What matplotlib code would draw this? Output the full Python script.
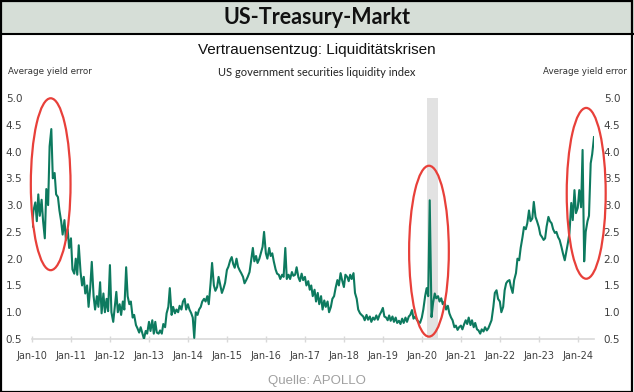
import matplotlib
matplotlib.use("Agg")
import matplotlib.pyplot as plt
import pandas as pd
from matplotlib.patches import Ellipse, Rectangle
from matplotlib.lines import Line2D

# Liquidity index, semi-monthly readings (1st and 15th of each month)
y2010 = [2.6, 2.9, 3.05, 2.7, 3.2, 2.8, 3.1, 2.7, 2.38, 3.3, 3.0, 4.1,
         4.42, 3.5, 3.6, 3.2, 3.15, 2.9, 2.7, 2.45, 2.72, 2.35, 2.55, 2.2]
y2011 = [2.38, 1.8, 1.72, 2.0, 1.7, 2.25, 1.75, 1.5, 1.66, 1.35, 1.5, 1.1,
         1.47, 1.94, 1.3, 1.05, 1.3, 1.1, 1.56, 0.98, 1.35, 1.0, 1.25, 1.02]
y2012 = [1.88, 1.0, 0.82, 1.1, 1.38, 1.0, 1.15, 0.95, 1.2, 1.05, 1.84, 1.3,
         1.15, 1.2, 0.9, 0.95, 0.76, 0.7, 0.62, 0.72, 0.6, 0.5, 0.65, 0.6]
y2013 = [0.82, 0.65, 0.85, 0.6, 0.82, 0.62, 0.6, 0.66, 0.6, 0.78, 0.72, 0.98,
         1.1, 1.45, 0.95, 1.1, 0.98, 1.05, 1.0, 1.12, 1.05, 1.2, 1.25, 1.05]
y2014 = [1.15, 1.05, 0.98, 0.9, 0.52, 1.0, 0.95, 1.05, 1.1, 1.2, 1.25, 1.2,
         1.3, 1.15, 1.54, 1.92, 1.5, 1.4, 1.47, 1.66, 1.5, 1.36, 1.45, 1.55]
y2015 = [1.79, 1.85, 1.97, 2.03, 1.9, 1.83, 2.0, 1.85, 1.78, 1.73, 1.66, 1.54,
         1.6, 1.66, 1.75, 1.95, 2.2, 1.95, 2.05, 1.92, 2.0, 2.1, 2.22, 2.5]
y2016 = [2.1, 2.0, 2.2, 2.05, 2.1, 1.95, 1.8, 1.72, 1.7, 1.62, 1.7, 1.66,
         2.2, 1.62, 1.7, 1.62, 1.75, 1.68, 1.7, 1.84, 1.65, 1.58, 1.72, 1.6]
y2017 = [1.66, 1.5, 1.58, 1.42, 1.5, 1.3, 1.42, 1.2, 1.36, 1.15, 1.3, 1.05,
         1.22, 1.1, 1.2, 1.0, 1.1, 1.25, 1.3, 1.45, 1.6, 1.5, 1.73, 1.6]
y2018 = [1.47, 1.7, 1.66, 1.58, 1.7, 1.62, 1.73, 1.36, 1.25, 1.05, 0.98, 0.95,
         0.92, 0.85, 0.95, 0.86, 0.92, 0.82, 0.9, 0.86, 0.94, 0.86, 0.95, 1.0]
y2019 = [1.08, 0.92, 0.9, 0.85, 0.94, 0.84, 0.92, 0.82, 0.9, 0.8, 0.84, 0.78,
         0.88, 0.8, 0.9, 0.82, 0.92, 0.95, 1.04, 0.88, 0.92, 0.86, 0.82, 0.8]
y2020 = [0.9, 1.05, 1.3, 1.45, 1.3, 3.09, 0.91, 1.17, 1.35, 1.26, 1.3, 1.2,
         1.26, 1.15, 1.2, 1.05, 1.12, 0.98, 0.9, 0.85, 0.72, 0.75, 0.67, 0.72]
y2021 = [0.75, 0.68, 0.78, 0.85, 0.78, 0.9, 0.76, 0.85, 0.72, 0.8, 0.68, 0.66,
         0.6, 0.68, 0.64, 0.72, 0.66, 0.7, 0.78, 0.85, 1.1, 1.36, 1.41, 1.25]
y2022 = [1.2, 1.0, 1.1, 1.41, 1.54, 1.58, 1.6, 1.47, 1.36, 1.6, 1.73, 2.0,
         1.97, 2.2, 2.4, 2.59, 2.55, 2.66, 2.9, 2.7, 2.75, 3.06, 2.78, 2.7]
y2023 = [2.59, 2.45, 2.4, 2.35, 2.38, 2.6, 2.78, 2.7, 2.66, 2.55, 2.48, 2.5,
         2.4, 2.35, 2.22, 2.1, 1.97, 2.12, 2.3, 2.48, 3.04, 2.72, 3.28, 2.85]
y2024 = [2.95, 3.28, 2.96, 4.03, 1.95, 2.5, 2.7, 2.8, 3.78, 3.95, 4.27]

values = (y2010 + y2011 + y2012 + y2013 + y2014 + y2015 + y2016 + y2017
          + y2018 + y2019 + y2020 + y2021 + y2022 + y2023 + y2024)
dates = pd.date_range("2010-01-01", periods=len(values), freq="SMS")

tick_years = list(range(2010, 2025))
tick_labels = ["Jan-10", "Jan-11", "Jan-12", "Jan-13", "Jan-14", "Jan-15", "Jan-16",
               "Jan-17", "Jan-18", "Jan-19", "Jan-20", "Jan-21", "Jan-22", "Jan-23", "Jan-24"]
y_ticks = [0.5, 1.0, 1.5, 2.0, 2.5, 3.0, 3.5, 4.0, 4.5, 5.0]

# crisis periods marked with red ellipses: (centre date, centre value, width days, height)
circles = [("2010-06-25", 3.39, 372, 3.21),
           ("2020-03-08", 2.14, 372, 3.19),
           ("2024-03-20", 3.22, 365, 3.19)]
covid_start, covid_end = "2020-02-15", "2020-05-28"

green = "#0d7a5f"
narrow = ["Liberation Sans Narrow", "DejaVu Sans"]

fig = plt.figure(figsize=(6.34, 3.92), dpi=100)
W, H = 634, 392

# header banner
fig.patches.append(Rectangle((0, 1 - 34 / H), 1, 34 / H, transform=fig.transFigure,
                             facecolor="#d6ded7", edgecolor="none", zorder=0))
fig.add_artist(Line2D([0, 1], [1 - 34 / H, 1 - 34 / H], transform=fig.transFigure,
                      color="black", lw=1.5))
fig.patches.append(Rectangle((0.5 / W, 0.5 / H), 1 - 2.5 / W, 1 - 1.5 / H,
                             transform=fig.transFigure, facecolor="none",
                             edgecolor="black", lw=1.6, zorder=5))

fig.text(0.5, 1 - 18 / H, "US-Treasury-Markt", ha="center", va="center",
         fontsize=15.5, fontweight="bold", family=["Lato", "DejaVu Sans"], color="#111111")
fig.text(0.5, 1 - 50 / H, "Vertrauensentzug: Liquiditätskrisen", ha="center", va="center",
         fontsize=11, family=["Liberation Sans", "DejaVu Sans"], color="#111111")
fig.text(0.5, 1 - 72 / H, "US government securities liquidity index", ha="center",
         va="center", fontsize=8, family=["Lato", "DejaVu Sans"], color="#222222")
fig.text(8 / W, 1 - 72 / H, "Average yield error", ha="left", va="center",
         fontsize=6.3, family=narrow, color="#333333")
fig.text(627 / W, 1 - 72 / H, "Average yield error", ha="right", va="center",
         fontsize=6.3, family=narrow, color="#333333")
fig.text(0.5, 1 - 381 / H, "Quelle: APOLLO", ha="center", va="center",
         fontsize=9.5, family=["Liberation Sans", "DejaVu Sans"], color="#a0a0a0")

ax = fig.add_axes([32 / W, 1 - 339 / H, (594 - 32) / W, (339 - 98) / H])
ax.axvspan(pd.Timestamp(covid_start), pd.Timestamp(covid_end), color="#e2e2e2", lw=0, zorder=1)
ax.plot(dates, values, color=green, lw=1.5, zorder=3)

for c_date, c_val, c_w, c_h in circles:
    e = Ellipse((matplotlib.dates.date2num(pd.Timestamp(c_date)), c_val), c_w, c_h,
                facecolor="none", edgecolor="#e8403a", lw=1.6, clip_on=False, zorder=4)
    ax.add_patch(e)

ax.set_xlim(pd.Timestamp("2010-01-01"), pd.Timestamp("2024-06-01"))
ax.set_ylim(0.5, 5.0)
ax.set_xticks([pd.Timestamp(f"{y}-01-01") for y in tick_years])
ax.set_xticklabels(tick_labels, family=narrow, fontsize=7, color="#404040")
ax.set_yticks(y_ticks)
ax.set_yticklabels([f"{v:.1f}" for v in y_ticks], family=narrow, fontsize=7.5, color="#404040")
ax.tick_params(axis="y", length=0, labelleft=True, labelright=True, pad=7)
ax.tick_params(axis="x", length=5, direction="inout", color="#d9d9d9", width=1, pad=6)

for s in ["top", "left", "right"]:
    ax.spines[s].set_visible(False)
ax.spines["bottom"].set_color("#d9d9d9")
ax.spines["bottom"].set_linewidth(1.2)

fig.savefig("out.png", dpi=100)
